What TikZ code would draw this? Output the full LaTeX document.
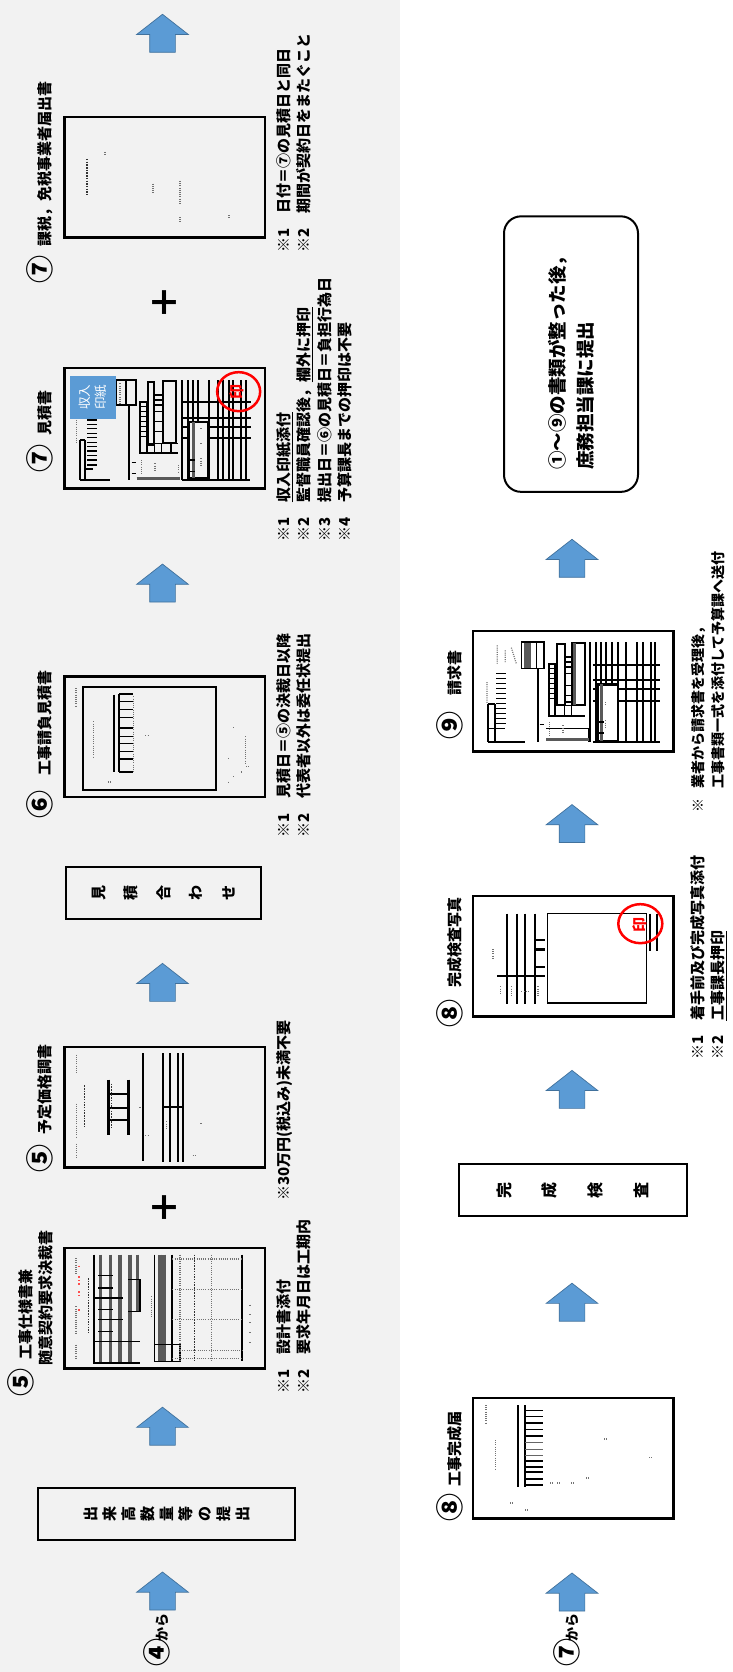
\documentclass[tikz,border=0pt]{standalone}
\usepackage{fontspec}
\usepackage{graphicx}
\usepackage{tikz}
\usetikzlibrary{positioning, calc, shapes.arrows, shapes.geometric}
\setmainfont{Noto Sans CJK JP}
\definecolor{sheetgray}{HTML}{F2F2F2}
\definecolor{blockblue}{HTML}{5B9BD5}
\definecolor{blockedge}{HTML}{41719C}
\newcommand{\sidestack}[3]{\rotatebox{90}{\parbox{30pt}{\centering\fontsize{#1}{#2}\selectfont #3}}}
\newcommand{\bignum}[1]{{\fontsize{28}{25}\selectfont #1}}

\begin{document}
\begin{tikzpicture}[
        x=1pt,
        y=-1pt,
        every node/.style={
            font=\bfseries\fontsize{15}{20.5}\selectfont,
            align=left,
            inner sep=0pt
        },
        formbox/.style={
            rectangle,
            draw,
            line width=2.5pt,
            minimum width=200.5pt,
            minimum height=120.5pt
        },
        flowbox/.style={
            rectangle,
            draw,
            line width=2pt,
            minimum height=52pt
        },
        endbox/.style={
            rectangle,
            rounded corners=17pt,
            draw,
            line width=2pt,
            minimum width=134pt,
            minimum height=275.5pt
        },
        upblock/.style={
            single arrow,
            shape border rotate=90,
            draw=blockedge,
            fill=blockblue,
            line width=0.7pt,
            inner xsep=12.5pt,
            inner ysep=0pt,
            minimum height=38pt,
            single arrow head extend=13pt,
            single arrow tip angle=104,
            single arrow head indent=0pt
        },
        plusmark/.style={
            font=\bfseries\fontsize{34}{34}\selectfont
        },
        doclabel/.style={
            rotate=90,
            anchor=base west
        },
        fromlabel/.style={
            rotate=90,
            anchor=base west,
            font=\bfseries\fontsize{14}{20.5}\selectfont
        },
        notetext/.style={
            rotate=90,
            anchor=north west
        },
        stampcircle/.style={
            ellipse,
            draw=red,
            line width=2.5pt
        },
        crop/.style 2 args={
            shift={(#1,#2)},
            x=0.3333pt,
            y=-0.3333pt
        },
        ruling/.style={line width=1.2pt},
        thinrule/.style={line width=0.7pt},
        boldrule/.style={line width=2pt},
        grayband/.style={line width=3.5pt, black!65},
        speck/.style={line width=1.2pt, black!55, dash pattern=on 1pt off 1.2pt},
        darkspeck/.style={line width=1.5pt, black!80, dash pattern=on 1.5pt off 1.2pt},
        redspeck/.style={line width=1.2pt, red!70, dash pattern=on 1.5pt off 2pt}
    ]

    \useasboundingbox (0,0) rectangle (732,1672);
    \fill[white] (0,0) rectangle (732,1672);
    \fill[sheetgray] (0,0) rectangle (400,1672);

    % Left column

    \node[upblock] (fromfour) at (162.5,1596) {};

    \node[flowbox, minimum width=257pt, above=31pt of fromfour, xshift=4pt] (quantity)
    {\sidestack{15}{19}{出\\来\\高\\数\\量\\等\\の\\提\\出}};

    \node[upblock, above=41pt of quantity, xshift=-4pt] (toorder) {};

    \node[formbox, above=37pt of toorder, xshift=2pt] (orderform) {};

    \node[formbox, above=78pt of orderform] (priceform) {};

    \node[plusmark] (plusorder) at ($(orderform)!0.5!(priceform)$) {＋};

    \node[upblock, above=44pt of priceform, xshift=-2pt] (toquote) {};

    \node[flowbox, minimum width=195pt, above=42.5pt of toquote, xshift=1pt] (quoting)
    {\sidestack{15}{32.5}{見\\積\\合\\わ\\せ}};

    \node[formbox, above=68pt of quoting, xshift=1pt] (bidform) {};

    \node[upblock, above=73pt of bidform, xshift=-2pt] (toestimate) {};

    \node[formbox, above=74pt of toestimate, xshift=2pt] (estimateform) {};

    \node[formbox, above=128pt of estimateform] (taxform) {};

    \node[plusmark] (plustax) at ($(estimateform)!0.5!(taxform)$) {＋};

    \node[upblock, above=63pt of taxform, xshift=-2pt] (tonext) {};

    % Right column

    \node[upblock] (fromseven) at (572,1597) {};

    \node[formbox, fill=white, above=53pt of fromseven, xshift=1pt] (doneform) {};

    \node[upblock, above=75pt of doneform, xshift=-1pt] (toinspect) {};

    \node[flowbox, minimum width=228pt, above=65.5pt of toinspect, xshift=0.5pt] (inspection)
    {\sidestack{16}{45.7}{完\\成\\検\\査}};

    \node[upblock, above=54.5pt of inspection, xshift=-0.5pt] (tophoto) {};

    \node[formbox, fill=white, above=52pt of tophoto, xshift=1pt] (photoform) {};

    \node[upblock, above=52pt of photoform, xshift=-1pt] (toinvoice) {};

    \node[formbox, fill=white, above=51.5pt of toinvoice, xshift=1pt] (invoiceform) {};

    \node[upblock, above=52pt of invoiceform, xshift=-1pt] (tosubmit) {};

    \node[endbox, above=46pt of tosubmit, xshift=-1pt] (submit)
    {\rotatebox{90}{\parbox{231pt}{\fontsize{18.5}{28}\selectfont
    ①～⑨の書類が整った後，\\
    庶務担当課に提出}}};

    % Labels of the left column

    \node[fromlabel] (fourlabel) at (167,1667) {\bignum{④}\hspace{-3pt}から};

    \node[doclabel] (orderlabel) at (51.5,1397)
    {\bignum{⑤}\hspace{9pt}工事仕様書兼\\
    \hspace*{31pt}随意契約要求決裁書};

    \node[doclabel] (pricelabel) at (50.5,1173) {\bignum{⑤}\hspace{10pt}予定価格調書};

    \node[doclabel] (bidlabel) at (50.5,819) {\bignum{⑥}\hspace{15pt}工事請負見積書};

    \node[doclabel] (estimatelabel) at (50.5,473) {\bignum{⑦}\hspace{9pt}見積書};

    \node[doclabel] (taxlabel) at (50.5,284) {\bignum{⑦}\hspace{9pt}課税，免税事業者届出書};

    % Notes of the left column

    \node[notetext] (ordernote) at (276,1394)
    {※1　設計書添付\\
    ※2　要求年月日は工期内};

    \node[notetext] (pricenote) at (276,1201) {※30万円(税込み)未満不要};

    \node[notetext] (bidnote) at (276,838)
    {※1　見積日＝⑤の決裁日以降\\
    ※2　代表者以外は委任状提出};

    \node[notetext] (estimatenote) at (276,541.6)
    {※1　\underline{収入印紙添付}\\
    ※2　監督職員確認後，\underline{欄外に押印}\\
    ※3　提出日＝⑥の見積日＝負担行為日\\
    ※4　予算課長までの押印は不要};

    \node[notetext] (taxnote) at (276,253)
    {※1　日付＝⑦の見積日と同日\\
    ※2　期間が契約日をまたぐこと};

    % Labels and notes of the right column

    \node[fromlabel] (sevenlabel) at (577,1667) {\bignum{⑦}\hspace{-3pt}から};

    \node[doclabel] (donelabel) at (460,1522) {\bignum{⑧}\hspace{7pt}工事完成届};

    \node[doclabel] (photolabel) at (460,1028) {\bignum{⑧}\hspace{12pt}完成検査写真};

    \node[doclabel] (invoicelabel) at (460,740) {\bignum{⑨}\hspace{16pt}請求書};

    \node[notetext] (photonote) at (690,1060)
    {※1　着手前及び完成写真添付\\
    ※2　\underline{工事課長押印}};

    \node[notetext, font=\bfseries\fontsize{14}{20.5}\selectfont] (invoicenote) at (691,812.5)
    {※\hspace{9.5pt}業者から請求書を受理後，\\
    \hspace*{23.5pt}工事書類一式を添付して予算課へ送付};

    % Order form, 5

    \begin{scope}[crop={60}{1243}]
        \draw[ruling] (102,35) -- (102,360) (283,35) -- (283,355);
        \draw[grayband] (122,35) -- (122,360) (152,35) -- (152,360) (180,35) -- (180,360)
            (210,35) -- (210,360) (232,35) -- (232,205) (300,35) -- (300,355) (312,35) -- (312,355);
        \draw[ruling] (115,97) -- (160,97) (115,135) -- (160,135) (100,165) -- (190,165)
            (115,200) -- (160,200) (115,230) -- (190,230) (115,265) -- (160,265) (100,295) -- (240,295)
            (205,110) -- (240,110) -- (240,205) -- (205,205);
        \draw[ruling] (283,305) rectangle (360,355) (100,360) -- (240,360);
        \draw[boldrule] (337,35) -- (337,355) (547,35) -- (547,355);
        \draw[speck] (360,35) -- (360,355) (455,35) -- (455,355)
            (337,48) -- (545,48) (337,140) -- (545,140) (337,230) -- (545,230)
            (360,322) -- (545,322) (337,347) -- (545,347);
        \draw[darkspeck] (403,35) -- (403,355);
        \draw[speck] (48,45) -- (48,92) (48,190) -- (48,270) (48,305) -- (48,350)
            (570,185) -- (570,188) (570,213) -- (570,216) (570,238) -- (570,241)
            (570,268) -- (570,271) (570,298) -- (570,301) (275,160) -- (275,220);
        \draw[darkspeck] (85,105) -- (85,270);
        \draw[redspeck] (57,68) -- (57,78) (57,100) -- (57,125) (57,145) -- (57,160) (57,198) -- (57,204);
    \end{scope}

    % Price form, 5

    \begin{scope}[crop={60}{1042}]
        \draw[boldrule, line width=3pt] (145,113) -- (145,278) (207,113) -- (207,278);
        \draw[boldrule] (145,157) -- (207,157) (145,197) -- (207,197) (145,235) -- (207,235)
            (248,33) -- (248,357) (308,33) -- (308,360) (331,33) -- (331,360)
            (353,33) -- (353,360) (370,33) -- (370,360) (308,195) -- (370,195);
        \draw[speck] (50,38) -- (50,92) (50,185) -- (50,285) (50,305) -- (50,350)
            (240,195) -- (240,199) (256,280) -- (264,280) (320,238) -- (320,258)
            (423,243) -- (423,247) (398,340) -- (408,340);
        \draw[darkspeck] (73,130) -- (73,255) (155,125) -- (155,260);
    \end{scope}

    % Bid form, 6

    \begin{scope}[crop={60}{673}]
        \draw[boldrule, line width=1.7pt] (70,42) rectangle (468,352);
        \draw[boldrule] (162,65) -- (162,298) (178,62) -- (178,298) (178,62) -- (220,62) (178,298) -- (220,298);
        \draw[ruling] (178,85) -- (218,85) (178,110) -- (218,110) (178,133) -- (218,133)
            (178,165) -- (218,165) (178,190) -- (218,190) (178,212) -- (218,212)
            (178,235) -- (218,235) (178,258) -- (218,258);
        \draw[speck] (48,45) -- (48,103) (100,145) -- (100,255) (557,190) -- (557,270)
            (256,187) -- (264,187) (144,327) -- (152,327) (520,163) -- (520,167)
            (505,255) -- (505,259) (520,310) -- (520,314) (505,326) -- (505,330)
            (543,297) -- (548,297) (558,280) -- (566,280) (220,70) -- (220,295);
    \end{scope}

    % Estimate form, 7

    \begin{scope}[crop={60}{365}]
        \draw[ruling] (168,45) rectangle (228,120) (198,45) -- (198,120);
        \draw[boldrule] (207,120) -- (207,345) (60,225) -- (60,345) (75,225) -- (75,345) (60,225) -- (75,225);
        \draw[ruling] (82,165) -- (112,165) (82,178) -- (112,178) (82,190) -- (112,190)
            (82,205) -- (112,205) (82,217) -- (112,217) (82,232) -- (112,232) (82,245) -- (112,245)
            (82,258) -- (112,258) (82,272) -- (112,272) (82,285) -- (112,285) (82,300) -- (112,300)
            (60,345) -- (150,345) (75,312) -- (100,312);
        \draw[speck] (50,165) -- (50,235) (180,55) -- (180,115);
        \draw[boldrule] (265,52) rectangle (283,240) (310,47) rectangle (348,235)
            (240,110) rectangle (260,265) (240,265) -- (355,265);
        \draw[ruling] (240,125) -- (260,125) (240,140) -- (260,140) (240,155) -- (260,155)
            (240,170) -- (260,170) (240,185) -- (260,185) (240,200) -- (260,200) (240,215) -- (260,215)
            (285,90) -- (305,90) (285,105) -- (305,105) (285,120) -- (305,120) (285,140) -- (305,140)
            (285,170) -- (305,170) (285,200) -- (305,200)
            (265,235) -- (355,235) (283,235) -- (283,265) (305,235) -- (305,265) (333,235) -- (333,265)
            (215,293) -- (228,293) (215,325) -- (228,325);
        \draw[grayband] (230,340) -- (360,340);
        \draw[speck] (245,285) -- (245,325) (285,295) -- (285,320) (355,300) -- (355,325);
        \draw[boldrule] (365,45) -- (365,345) (383,45) -- (383,345) (398,45) -- (398,345) (413,45) -- (413,345)
            (447,45) -- (447,345) (473,45) -- (473,345) (490,45) -- (490,345) (508,45) -- (508,345)
            (520,45) -- (520,345) (543,45) -- (543,345) (558,45) -- (558,345)
            (370,112) -- (572,112) (370,158) -- (572,158) (370,185) -- (572,185) (370,220) -- (572,220)
            (365,345) -- (570,345);
        \draw[boldrule, fill=sheetgray] (387,170) rectangle (445,340);
        \draw[grayband] (400,170) -- (400,340);
        \draw[ruling] (385,285) -- (405,285) (385,320) -- (405,320);
        \draw[speck] (423,190) -- (423,195) (423,235) -- (423,240) (423,280) -- (423,300);
        \node[rectangle, rotate=90, fill=blockblue, minimum width=42.7pt, minimum height=46pt,
            text=white, font=\fontsize{12.5}{16.7}\selectfont, align=center] (stamp) at (99,97) {収入\\印紙};
        \node[rotate=90, text=red, font=\bfseries\fontsize{15}{15}\selectfont] (seal) at (530,80) {印};
        \node[stampcircle, minimum width=43pt, minimum height=39pt] (sealring) at (536,80) {};
    \end{scope}

    % Tax form, 7

    \draw[darkspeck] (87,159) -- (87,194.5);
    \draw[speck] (105,152) -- (105,156) (153,183.6) -- (153,194.5) (180,181) -- (180,203.5)
        (180,217) -- (180,222.5) (229,215) -- (229,219);

    % Completion form, 8

    \draw[boldrule, line width=1.7pt] (517.7,1405) -- (517.7,1486.5) (525,1405) -- (525,1486.5);
    \draw[ruling] (525,1410.6) -- (543,1410.6) (525,1416.6) -- (543,1416.6) (525,1423) -- (543,1423)
        (525,1429.4) -- (543,1429.4) (525,1436) -- (543,1436) (525,1461) -- (543,1461) (525,1467) -- (543,1467)
        (525,1472) -- (543,1472) (525,1479) -- (543,1479) (525,1485) -- (543,1485);
    \draw[thinrule, black!60] (525,1442) -- (543,1442) (525,1449) -- (543,1449) (525,1455) -- (543,1455);
    \draw[speck] (486,1405) -- (486,1424) (495.7,1440) -- (495.7,1469) (510,1503) -- (514,1503)
        (525,1510) -- (528,1510) (550,1483) -- (553,1483) (557,1483) -- (560,1483) (571,1483) -- (574,1483)
        (586,1478) -- (590,1478) (604,1439) -- (608,1439) (649,1457.7) -- (652,1457.7);

    % Photo form, 8

    \begin{scope}[crop={468}{893}]
        \draw[boldrule, line width=1.7pt] (118,62) -- (118,333) (147,62) -- (147,333) (172,62) -- (172,333)
            (200,62) -- (200,333) (87,248) -- (230,248) (545,62) -- (545,175) (567,62) -- (567,175);
        \draw[ruling] (238,62) rectangle (535,330);
        \draw[boldrule, line width=1.7pt] (200,142) -- (230,142) (200,223) -- (230,223);
        \draw[boldrule, line width=2.5pt] (200,170) -- (230,170);
        \draw[speck] (75,168) -- (75,200) (98,280) -- (98,300) (130,280) -- (130,310)
            (160,295) -- (185,295) (210,280) -- (210,310);
        \node[rotate=90, text=red, font=\bfseries\fontsize{15}{15}\selectfont] (sealtwo) at (515,95) {印};
        \node[stampcircle, minimum width=44pt, minimum height=39pt] (sealringtwo) at (517,92) {};
    \end{scope}

    % Invoice form, 9

    \begin{scope}[crop={468}{627}]
        \draw[ruling] (160,45) rectangle (228,125) (205,45) -- (205,125);
        \draw[grayband, line width=7pt] (178,47) -- (178,123);
        \draw[boldrule] (210,125) -- (210,345) (60,230) -- (60,345) (80,230) -- (80,345) (60,230) -- (80,230);
        \draw[ruling] (85,140) -- (115,140) (85,155) -- (115,155) (85,170) -- (115,170)
            (85,185) -- (115,185) (85,200) -- (115,200) (85,215) -- (115,215) (85,230) -- (115,230)
            (85,245) -- (115,245) (85,260) -- (115,260) (85,275) -- (115,275) (85,290) -- (115,290)
            (60,305) -- (110,305) (60,345) -- (170,345);
        \draw[speck] (57,165) -- (57,230) (88,55) -- (88,110) (112,70) -- (112,105) (130,62) -- (145,110);
        \draw[boldrule] (268,52) rectangle (290,235) (313,47) rectangle (350,235)
            (242,110) rectangle (262,268) (242,268) -- (350,268);
        \draw[grayband] (319,47) -- (319,235);
        \draw[ruling] (242,125) -- (262,125) (242,140) -- (262,140) (242,155) -- (262,155) (242,170) -- (262,170)
            (242,185) -- (262,185) (242,200) -- (262,200) (242,215) -- (262,215)
            (290,90) -- (308,90) (290,105) -- (308,105) (290,120) -- (308,120) (290,140) -- (308,140)
            (290,175) -- (308,175) (290,205) -- (308,205) (290,225) -- (308,225)
            (262,235) -- (350,235) (290,235) -- (290,268) (310,235) -- (310,268)
            (215,292) -- (228,292) (235,305) -- (362,305) (362,305) -- (362,345);
        \draw[grayband] (235,338) -- (362,338);
        \draw[speck] (245,285) -- (245,325) (285,295) -- (285,320);
        \draw[boldrule] (365,45) -- (365,345) (383,45) -- (383,345) (398,45) -- (398,345) (413,45) -- (413,345)
            (432,45) -- (432,345) (450,45) -- (450,345) (473,45) -- (473,345) (508,45) -- (508,345)
            (525,45) -- (525,345) (548,45) -- (548,345) (560,45) -- (560,345)
            (375,113) -- (577,113) (375,158) -- (577,158) (375,185) -- (577,185) (375,222) -- (577,222)
            (375,345) -- (577,345);
        \draw[boldrule, line width=2.5pt, fill=white] (388,172) rectangle (450,342);
        \draw[grayband] (400,172) -- (400,342);
        \draw[ruling] (388,285) -- (408,285) (388,318) -- (408,318);
        \draw[speck] (412,225) -- (412,235) (412,280) -- (412,300);
    \end{scope}

\end{tikzpicture}
\end{document}
